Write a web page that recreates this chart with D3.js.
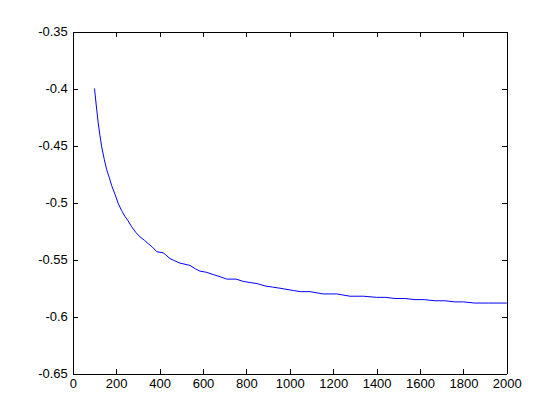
<!DOCTYPE html>
<html>
<head>
<meta charset="utf-8">
<script src="https://cdn.jsdelivr.net/npm/d3@7"></script>
<style>
  body { margin: 0; background: #fff; }
  svg { display: block; }
  .axis text { font-family: "Liberation Sans", Arial, sans-serif; font-size: 13px; fill: #000; }
  .axis line, .axis path { stroke: #000; shape-rendering: crispEdges; }
</style>
</head>
<body>
<svg id="chart"></svg>
<script>
// values
var xValues = [100, 110, 117, 125, 133, 145, 156, 168, 179, 195, 210, 225, 240, 255, 271, 290, 310, 330,
    348, 367, 387, 417, 448, 470, 494, 540, 565, 586, 615, 647, 680, 709, 752, 785, 817, 850, 886,
    920, 955, 1016, 1050, 1093, 1154, 1216, 1277, 1339, 1400, 1440, 1485, 1530, 1577, 1620, 1669,
    1715, 1761, 1800, 1853, 1915, 1960, 2000];
var yValues = [-0.400, -0.418, -0.430, -0.441, -0.451, -0.462, -0.471, -0.478, -0.485, -0.493, -0.501,
    -0.507, -0.512, -0.516, -0.521, -0.526, -0.530, -0.533, -0.536, -0.539, -0.543, -0.544, -0.549,
    -0.551, -0.553, -0.555, -0.558, -0.560, -0.561, -0.563, -0.565, -0.567, -0.567, -0.569, -0.570,
    -0.571, -0.573, -0.574, -0.575, -0.577, -0.578, -0.578, -0.580, -0.580, -0.582, -0.582, -0.583,
    -0.583, -0.584, -0.584, -0.585, -0.585, -0.586, -0.586, -0.587, -0.587, -0.588, -0.588, -0.588, -0.588];
var xTicks = [0, 200, 400, 600, 800, 1000, 1200, 1400, 1600, 1800, 2000];
var yTicks = [-0.65, -0.6, -0.55, -0.5, -0.45, -0.4, -0.35];

var width = 560, height = 420;
var margin = {top: 31.5, right: 53.2, bottom: 46.2, left: 72.8};
var w = width - margin.left - margin.right,
    h = height - margin.top - margin.bottom;

var svg = d3.select("#chart")
    .attr("width", width)
    .attr("height", height);

var g = svg.append("g")
    .attr("transform", "translate(" + margin.left + "," + margin.top + ")");

var xScale = d3.scaleLinear().domain([0, 2000]).range([0, w]);
var yScale = d3.scaleLinear().domain([-0.65, -0.35]).range([h, 0]);

var fmt = function(d){ return String(+d.toFixed(2)); };

// bottom + top
g.append("g").attr("class", "axis")
    .attr("transform", "translate(0," + h + ")")
    .call(d3.axisBottom(xScale).tickValues(xTicks).tickFormat(fmt)
        .tickSizeInner(-5).tickSizeOuter(0).tickPadding(5));
g.append("g").attr("class", "axis")
    .call(d3.axisTop(xScale).tickValues(xTicks).tickFormat("")
        .tickSizeInner(-5).tickSizeOuter(0));
// left + right
g.append("g").attr("class", "axis")
    .call(d3.axisLeft(yScale).tickValues(yTicks).tickFormat(fmt)
        .tickSizeInner(-5).tickSizeOuter(0).tickPadding(5));
g.append("g").attr("class", "axis")
    .attr("transform", "translate(" + w + ",0)")
    .call(d3.axisRight(yScale).tickValues(yTicks).tickFormat("")
        .tickSizeInner(-5).tickSizeOuter(0));

var line = d3.line()
    .x(function(d, i){ return xScale(xValues[i]); })
    .y(function(d, i){ return yScale(yValues[i]); });

g.append("path")
    .datum(yValues)
    .attr("d", line)
    .style("fill", "none")
    .style("stroke", "#0000ff")
    .style("stroke-width", 1);
</script>
</body>
</html>
